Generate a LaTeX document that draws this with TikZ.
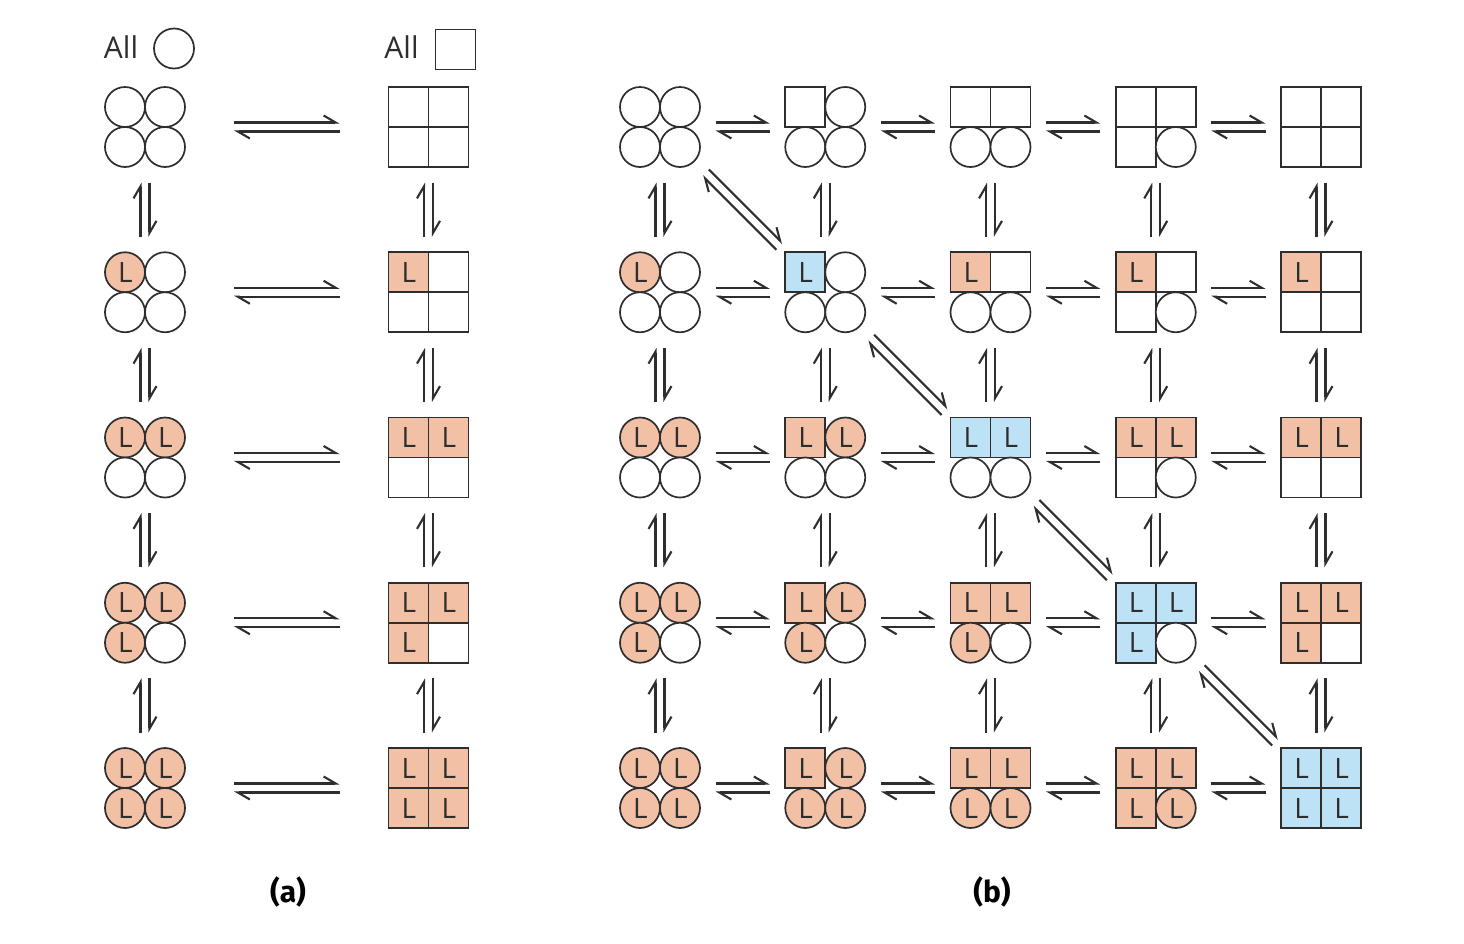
\documentclass[tikz,border=0pt]{standalone}
\usepackage{fontspec}
\setmainfont{Open Sans}
\newfontfamily\labfont{Fira Sans}
\usetikzlibrary{calc,arrows.meta}
\definecolor{ink}{HTML}{2E2E2E}
\definecolor{org}{HTML}{F2C0A5}
\definecolor{blu}{HTML}{BDE2F5}
\newcommand\subunits[6]{%
  \node[comp] (#1) at (#2,#3) {};
  \foreach \p/\dx/\dy in {0/-20/-20,1/20/-20,2/-20/20,3/20/20}{%
    \ifnum\p<#5 \def\fc{#6}\else\def\fc{white}\fi
    \ifnum\p<#4
      \draw[sub, fill=\fc] ($(#1)+(\dx-20,\dy-20)$) rectangle ++(40,40);
    \else
      \draw[sub, fill=\fc] ($(#1)+(\dx,\dy)$) circle[radius=20pt];
    \fi
    \ifnum\p<#5 \node[lab] (#1-L\p) at ($(#1)+(\dx+0.5,\dy)$) {L};\fi
  }%
}
\newcommand\eqa[3]{%
  \draw[harp, shorten <=#3, shorten >=#3] ($(#1)!4.5pt!90:(#2)$) -- ($(#2)!4.5pt!-90:(#1)$);
  \draw[harp, shorten <=#3, shorten >=#3] ($(#2)!4.5pt!90:(#1)$) -- ($(#1)!4.5pt!-90:(#2)$);
}
\begin{document}
\begin{tikzpicture}[x=1pt,y=-1pt,
  comp/.style={minimum size=80pt, inner sep=0pt, outer sep=0pt, draw=none},
  sub/.style={draw=ink, line width=1.7pt},
  lab/.style={inner sep=0pt, text=ink, font=\fontsize{28}{28}\selectfont},
  big/.style={inner sep=0pt, text=ink, font=\fontsize{30}{30}\selectfont},
  harp/.style={draw=ink, line width=2.1pt, -{Straight Barb[left,length=12pt,width=14pt]}},
  tag/.style={inner sep=0pt, text=black, font=\labfont\bfseries\fontsize{30}{30}\selectfont},
]
\useasboundingbox (0,0) rectangle (1464,943);
% headers
\node[big] (allc) at (121,47.5) {All};
\node[draw=ink, line width=1.7pt, circle, minimum size=40pt, inner sep=0pt] (allcirc) at (174,48.5) {};
\node[big] (alls) at (401.5,47.5) {All};
\node[draw=ink, line width=1.7pt, rectangle, minimum size=40pt, inner sep=0pt] (allsq) at (455.5,49.5) {};
% panel (a)
\foreach \i in {0,...,4}{
  \subunits{a-\i-c}{145}{127+165.25*\i}{0}{\i}{org}
  \subunits{a-\i-s}{428.5}{127+165.25*\i}{4}{\i}{org}
}
% panel (b)
\foreach \i in {0,...,4}{
  \foreach \j in {0,...,4}{
    \ifnum\i=\j \def\cc{blu}\else\def\cc{org}\fi
    \subunits{b-\i-\j}{660+165.25*\j}{127+165.25*\i}{\j}{\i}{\cc}
  }
}
% arrows (a)
\foreach \i in {0,...,4}{\eqa{a-\i-c.east}{a-\i-s.west}{49pt}}
\foreach \i/\k in {0/1,1/2,2/3,3/4}{
  \eqa{a-\i-c.south}{a-\k-c.north}{15.5pt}
  \eqa{a-\i-s.south}{a-\k-s.north}{15.5pt}
}
% arrows (b)
\foreach \i in {0,...,4}{
  \foreach \j/\k in {0/1,1/2,2/3,3/4}{\eqa{b-\i-\j.east}{b-\i-\k.west}{15.5pt}}
}
\foreach \i/\k in {0/1,1/2,2/3,3/4}{
  \foreach \j in {0,...,4}{\eqa{b-\i-\j.south}{b-\k-\j.north}{15.5pt}}
  \eqa{b-\i-\i.south east}{b-\k-\k.north west}{8pt}
}
% tags
\node[tag] (ta) at (288,892) {(a)};
\node[tag] (tb) at (992,892) {(b)};
\end{tikzpicture}
\end{document}
